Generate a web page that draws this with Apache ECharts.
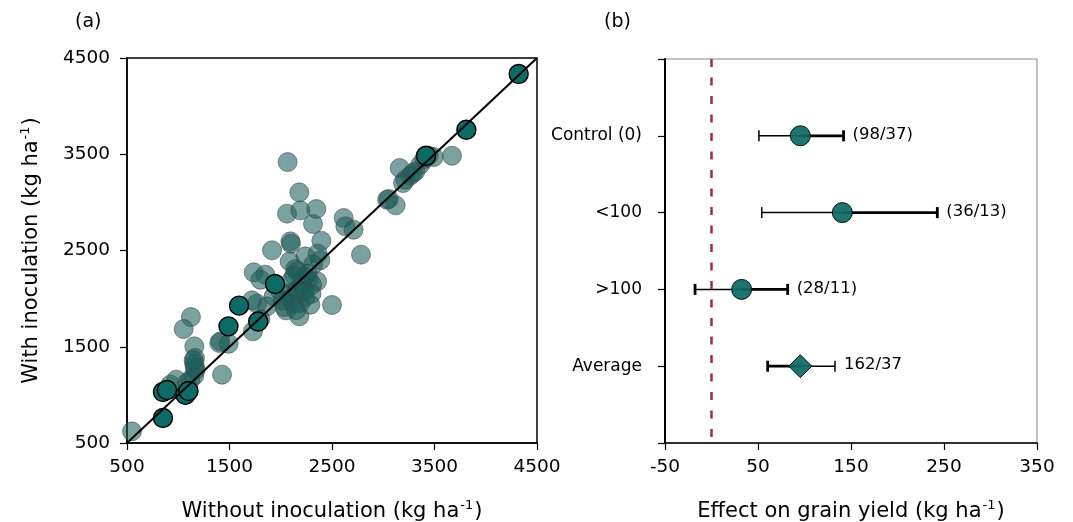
<!DOCTYPE html>
<html>
<head>
<meta charset="utf-8">
<script src="https://cdn.jsdelivr.net/npm/echarts@6/dist/echarts.min.js"></script>
<style>
  html, body { margin: 0; padding: 0; background: #fff; }
  #chart { width: 1073px; height: 522px; }
</style>
</head>
<body>
<div id="chart"></div>
<script>
// ---- Panel (a): grain yield with vs. without inoculation (kg/ha) ----
// semi-transparent observations [without, with]
const yieldPairs = [
  [3160,3357],[3215,3236],[3264,3278],[3313,3323],[3362,3392],[3401,3451],[3443,3485],[3492,3471],
  [3671,3485],[3420,3470],[3037,3028],[3054,3035],[3121,2969],[3193,3201],[3290,3305],
  [2614,2838],[2630,2751],[2711,2716],[2783,2457],
  [2067,3419],[2181,3104],[2061,2883],[2191,2917],[2347,2931],[2315,2775],[2094,2595],[2100,2571],
  [1915,2502],[2396,2602],[2087,2387],[2240,2439],[2360,2467],[2386,2398],[2315,2353],[2142,2308],
  [2159,2284],[1736,2273],[1850,2249],[1801,2197],[2272,2197],[2354,2180],[2207,2162],[2159,2093],
  [2077,2052],[1996,2076],[2240,2017],[2191,1954],[2126,1948],[2035,1913],[2051,1878],[2289,1937],
  [1866,1920],[1768,1948],[1720,1982],[2500,1934],[2181,1816],[1801,1788],[1729,1660],[1931,2024],
  [2110,2197],[2224,2232],[2305,2145],[2100,2000],[2180,2100],[2230,2080],[2150,1880],[2260,2260],
  [2020,1980],[2300,2050],[2130,2240],
  [1124,1809],[1053,1684],[1157,1504],[1163,1383],[1157,1324],[1170,1262],[1157,1200],[1427,1210],
  [1411,1556],[1492,1532],[981,1158],[923,1106],[549,621],[1085,1123],[1118,1158],[1160,1290],
  [1150,1360],[1400,1540]
];
// highlighted observations [without, with]
const yieldPairsHighlighted = [
  [4321,4334],[3811,3755],[3417,3485],[1944,2152],[1593,1927],[1490,1712],[1780,1762],
  [851,1030],[890,1050],[1070,1000],[1100,1040],[851,760]
];
const yieldTicks = [500, 1500, 2500, 3500, 4500];
const oneToOne = [500, 4500];

// ---- Panel (b): effect on grain yield by group ----
const groups = ['Control (0)', '<100', '>100', 'Average'];
const effectMean = [95.5, 140.7, 32.4, 95.5];
const effectLow = [51, 54, -17.7, 60.4];
const effectHigh = [142, 242.8, 81.9, 132.8];
const groupCounts = ['(98/37)', '(36/13)', '(28/11)', '162/37'];
const effectTicks = [-50, 50, 150, 250, 350];
const noEffect = 0;

// which half of each bar is drawn heavy, and which caps are heavy
const heavyHalf = ['high', 'high', 'high', 'low'];
const heavyLowCap = [false, false, true, true];
const heavyHighCap = [true, true, true, false];

const FONT = 'DejaVu Sans';
const TEAL = '#0d6b65';

function axisTitle(main) {
  return '{m|' + main + ' (kg ha}{s|-1}{m|)}';
}
const titleRich = {
  m: { fontSize: 21, fontFamily: FONT, color: '#000', lineHeight: 26 },
  s: { fontSize: 13, fontFamily: FONT, color: '#000', verticalAlign: 'top', lineHeight: 26, padding: [0, 1, 0, 1] }
};

const baseAxis = {
  axisLine: { show: true, onZero: false, lineStyle: { color: '#000', width: 1.5 } },
  axisTick: { show: true, inside: false, length: 7, lineStyle: { color: '#000', width: 1.2 } },
  splitLine: { show: false },
  axisLabel: { color: '#000', fontSize: 18.5, fontFamily: FONT, showMinLabel: true, showMaxLabel: true,
               formatter: v => String(v) }
};

const chart = echarts.init(document.getElementById('chart'), null, { renderer: 'canvas' });

chart.setOption({
  animation: false,
  backgroundColor: '#fff',
  title: [
    { text: '(a)', left: 70, top: 8, textStyle: { fontSize: 19, fontWeight: 'normal', fontFamily: FONT, color: '#000' } },
    { text: '(b)', left: 599, top: 8, textStyle: { fontSize: 19, fontWeight: 'normal', fontFamily: FONT, color: '#000' } }
  ],
  grid: [
    { left: 127, top: 58, width: 410, height: 385, containLabel: false, outerBoundsMode: 'none',
      show: true, borderColor: '#000', borderWidth: 1.5, backgroundColor: 'transparent' },
    { left: 665, top: 59, width: 372, height: 384, containLabel: false, outerBoundsMode: 'none',
      show: true, borderColor: '#888', borderWidth: 1, backgroundColor: 'transparent' }
  ],
  xAxis: [
    Object.assign({}, baseAxis, {
      gridIndex: 0, type: 'value',
      min: yieldTicks[0], max: yieldTicks[yieldTicks.length - 1], interval: yieldTicks[1] - yieldTicks[0],
      axisLabel: Object.assign({}, baseAxis.axisLabel, { margin: 15 }),
      name: axisTitle('Without inoculation'), nameLocation: 'middle', nameGap: 56,
      nameTextStyle: { rich: titleRich }
    }),
    Object.assign({}, baseAxis, {
      gridIndex: 1, type: 'value',
      min: effectTicks[0], max: effectTicks[effectTicks.length - 1], interval: effectTicks[1] - effectTicks[0],
      axisLabel: Object.assign({}, baseAxis.axisLabel, { margin: 15 }),
      name: axisTitle('Effect on grain yield'), nameLocation: 'middle', nameGap: 56,
      nameTextStyle: { rich: titleRich }
    })
  ],
  yAxis: [
    Object.assign({}, baseAxis, {
      gridIndex: 0, type: 'value',
      min: yieldTicks[0], max: yieldTicks[yieldTicks.length - 1], interval: yieldTicks[1] - yieldTicks[0],
      axisLabel: Object.assign({}, baseAxis.axisLabel, { margin: 17 }),
      name: axisTitle('With inoculation'), nameLocation: 'middle', nameGap: 82, nameRotate: 90,
      nameTextStyle: { rich: titleRich }
    }),
    Object.assign({}, baseAxis, {
      gridIndex: 1, type: 'value', min: 0, max: groups.length + 1, interval: 1, inverse: true,
      axisLine: { show: true, onZero: false, lineStyle: { color: '#000', width: 2 } },
      axisLabel: {
        color: '#000', fontSize: 17, fontFamily: FONT, margin: 23, showMinLabel: true, showMaxLabel: true,
        formatter: v => groups[v - 1] || ''
      }
    })
  ],
  series: [
    {
      type: 'scatter', xAxisIndex: 0, yAxisIndex: 0, z: 2,
      symbol: 'circle', symbolSize: 19,
      data: yieldPairs,
      itemStyle: { color: '#1a5f5b', borderColor: '#444', borderWidth: 1, opacity: 0.58 },
      emphasis: { disabled: true }
    },
    {
      type: 'scatter', xAxisIndex: 0, yAxisIndex: 0, z: 3,
      symbol: 'circle', symbolSize: 19,
      data: yieldPairsHighlighted,
      itemStyle: { color: TEAL, borderColor: '#000', borderWidth: 1.4, opacity: 1 },
      emphasis: { disabled: true }
    },
    {
      type: 'line', xAxisIndex: 0, yAxisIndex: 0, z: 4,
      data: oneToOne.map(v => [v, v]),
      symbol: 'none',
      lineStyle: { color: '#000', width: 2 },
      emphasis: { disabled: true }
    },
    {
      type: 'custom', xAxisIndex: 1, yAxisIndex: 1, z: 2,
      data: groups.map((g, i) => [i + 1, effectLow[i], effectMean[i], effectHigh[i]]),
      encode: { x: [1, 2, 3], y: 0 },
      renderItem: function (params, api) {
        const i = params.dataIndex;
        const row = api.value(0);
        const lo = api.coord([api.value(1), row]);
        const mid = api.coord([api.value(2), row]);
        const hi = api.coord([api.value(3), row]);
        const heavy = 2.8, light = 1.5, cap = 5.5;
        const wLow = heavyHalf[i] === 'low' ? heavy : light;
        const wHigh = heavyHalf[i] === 'high' ? heavy : light;
        const seg = (x1, y1, x2, y2, w) => ({
          type: 'line', shape: { x1, y1, x2, y2 }, style: { stroke: '#000', lineWidth: w }
        });
        return {
          type: 'group',
          children: [
            seg(lo[0], lo[1], mid[0], mid[1], wLow),
            seg(mid[0], mid[1], hi[0], hi[1], wHigh),
            seg(lo[0], lo[1] - cap, lo[0], lo[1] + cap, heavyLowCap[i] ? heavy : light),
            seg(hi[0], hi[1] - cap, hi[0], hi[1] + cap, heavyHighCap[i] ? heavy : light),
            {
              type: 'text', x: hi[0] + 9, y: hi[1] - 1,
              style: { text: groupCounts[i], fill: '#000', font: '16.5px "DejaVu Sans"', textAlign: 'left', textVerticalAlign: 'middle' }
            }
          ]
        };
      }
    },
    {
      type: 'scatter', xAxisIndex: 1, yAxisIndex: 1, z: 3,
      data: groups.map((g, i) => ({
        value: [effectMean[i], i + 1],
        symbol: i === groups.length - 1 ? 'diamond' : 'circle',
        symbolSize: i === groups.length - 1 ? 23 : 20
      })),
      itemStyle: { color: TEAL, borderColor: '#000', borderWidth: 1, opacity: 0.93 },
      emphasis: { disabled: true },
      markLine: {
        silent: true, symbol: 'none', z: 5,
        label: { show: false },
        lineStyle: { color: '#a3294f', width: 2.5, type: [8, 10.5] },
        data: [{ xAxis: noEffect }]
      }
    }
  ]
});
</script>
</body>
</html>
